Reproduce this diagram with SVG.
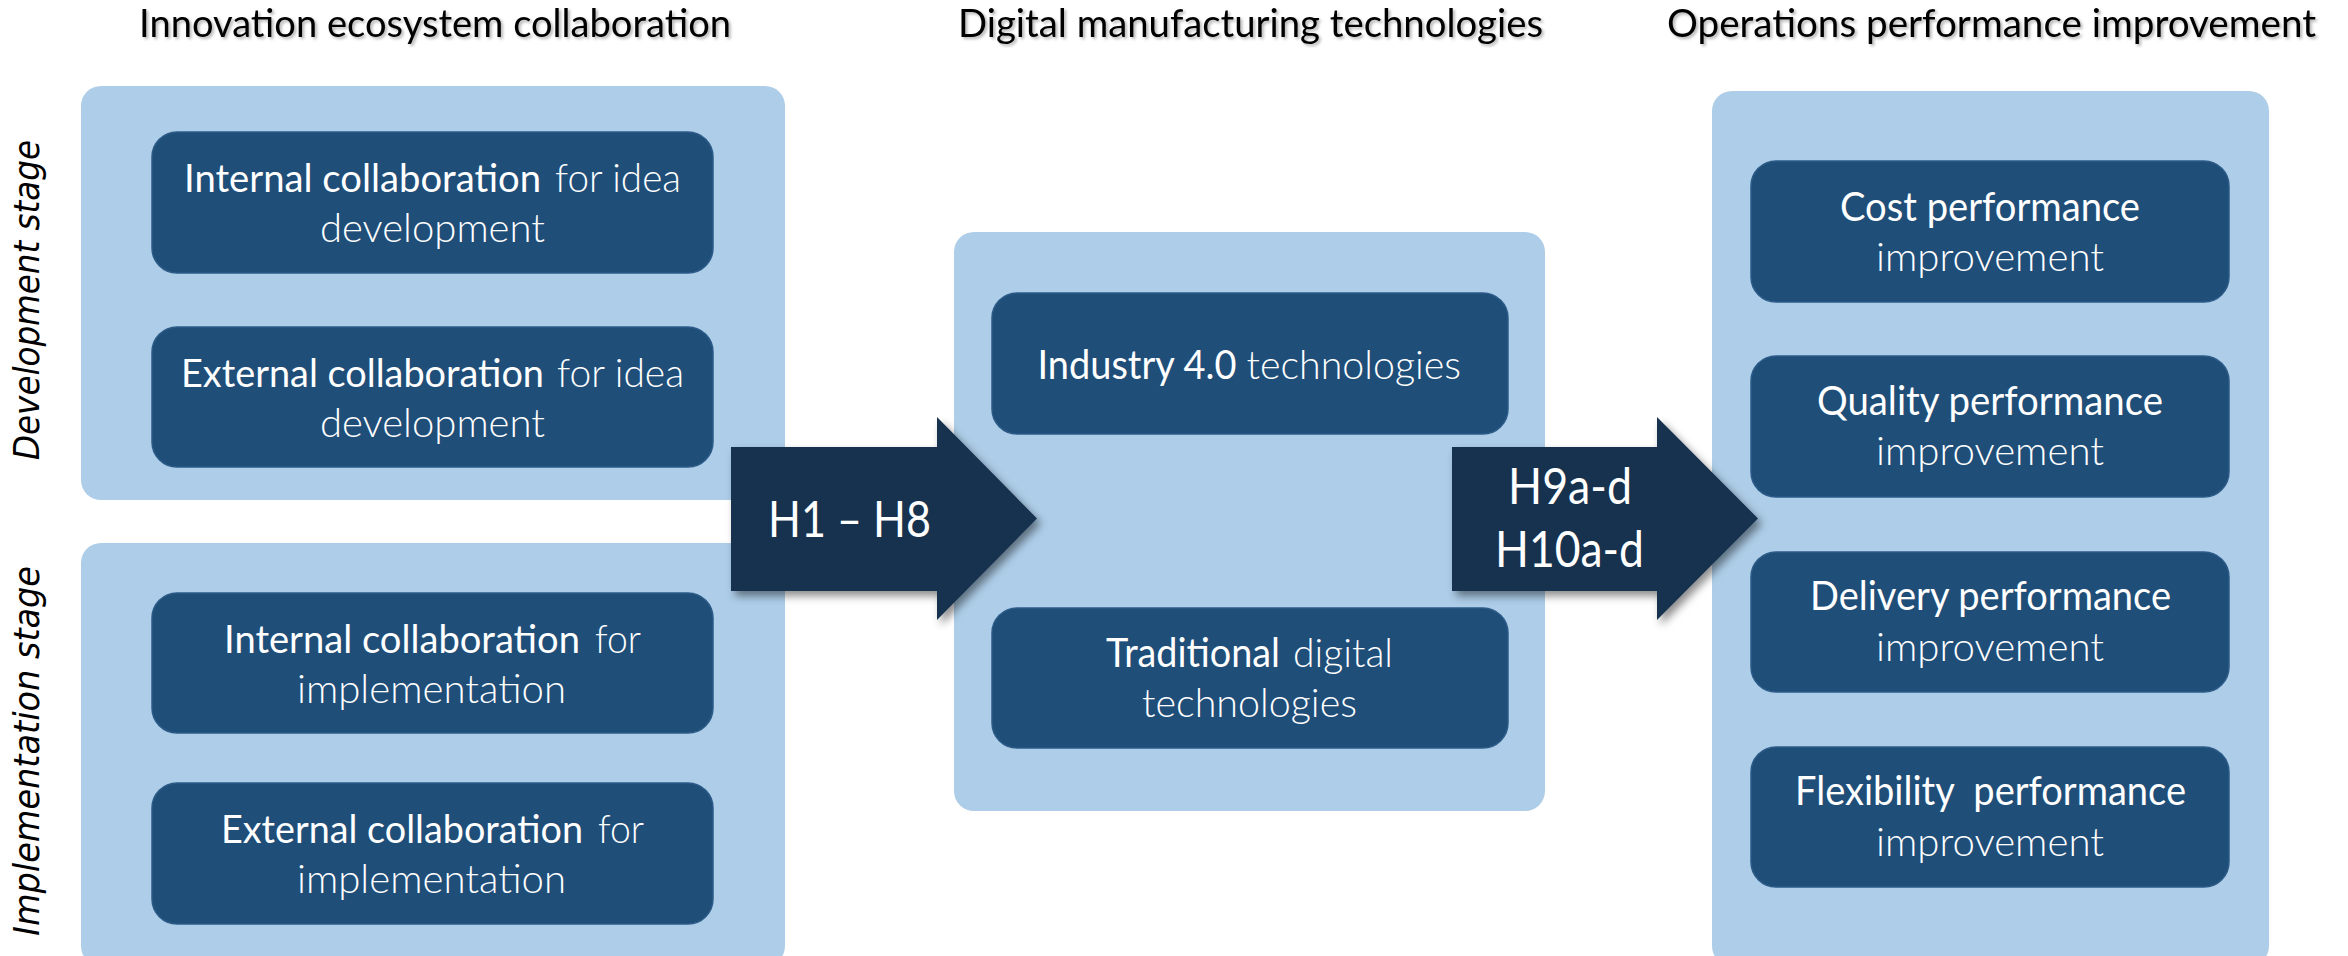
<svg xmlns="http://www.w3.org/2000/svg" width="2348" height="956" viewBox="0 0 2348 956">
  <defs>
    <filter id="arrowShadow" x="-10%" y="-10%" width="130%" height="140%">
      <feDropShadow dx="4" dy="5" stdDeviation="4" flood-color="#000" flood-opacity="0.45"/>
    </filter>
    <filter id="titleShadow" x="-5%" y="-30%" width="110%" height="170%">
      <feDropShadow dx="2" dy="2" stdDeviation="1.5" flood-color="#000" flood-opacity="0.3"/>
    </filter>
  </defs>
  <style>
    .panel { fill: #ADCDE8; }
    .box { fill: #1F4E79; stroke: #2C5B88; stroke-width: 1.5; }
    .arrow { fill: #17324F; filter: url(#arrowShadow); }
    .t { font-family: Lato, "Open Sans", "Liberation Sans", sans-serif; fill: #FFFFFF; font-size: 40px; }
    .b { font-weight: 400; }
    .l { font-weight: 300; }
    .c { font-size: 38px; }
    .title { font-family: Lato, "Open Sans", "Liberation Sans", sans-serif; fill: #000; font-size: 39px; font-weight: 400; filter: url(#titleShadow); }
    .stage { font-family: "DejaVu Sans", "Liberation Sans", sans-serif; font-style: italic; font-size: 35px; fill: #000; }
    .atext { font-family: Lato, "Open Sans", "Liberation Sans", sans-serif; fill: #FFFFFF; font-size: 50px; font-weight: 400; }
  </style>

  <rect width="2348" height="956" fill="#FFFFFF"/>

  <!-- Titles -->
  <g id="titles">
    <text class="title" x="139" y="37" textLength="592" lengthAdjust="spacingAndGlyphs">Innovation ecosystem collaboration</text>
    <text class="title" x="958" y="37" textLength="585" lengthAdjust="spacingAndGlyphs">Digital manufacturing technologies</text>
    <text class="title" x="1667" y="37" textLength="649" lengthAdjust="spacingAndGlyphs">Operations performance improvement</text>
  </g>

  <!-- Stage labels -->
  <g id="stage-labels">
    <text class="stage" transform="translate(39,300) rotate(-90)" x="-160" y="0" textLength="320" lengthAdjust="spacingAndGlyphs">Development stage</text>
    <text class="stage" transform="translate(39,751) rotate(-90)" x="-185" y="0" textLength="370" lengthAdjust="spacingAndGlyphs">Implementation stage</text>
  </g>

  <!-- Panels -->
  <g id="panel-development">
    <rect class="panel" x="81" y="86" width="704" height="414" rx="20"/>
  </g>
  <g id="panel-implementation">
    <rect class="panel" x="81" y="543" width="704" height="423" rx="20"/>
  </g>
  <g id="panel-digital">
    <rect class="panel" x="954" y="232" width="591" height="579" rx="20"/>
  </g>
  <g id="panel-operations">
    <rect class="panel" x="1712" y="91" width="557" height="875" rx="20"/>
  </g>

  <!-- Left nodes -->
  <g id="node-internal-idea">
    <rect class="box" x="152" y="132" width="561" height="141" rx="25"/>
    <text class="t b c" x="184" y="192" textLength="357" lengthAdjust="spacingAndGlyphs">Internal collaboration</text>
    <text class="t l" x="555" y="192" textLength="126" lengthAdjust="spacingAndGlyphs">for idea</text>
    <text class="t l" x="320" y="242" textLength="225" lengthAdjust="spacingAndGlyphs">development</text>
  </g>
  <g id="node-external-idea">
    <rect class="box" x="152" y="327" width="561" height="140" rx="25"/>
    <text class="t b c" x="181" y="387" textLength="363" lengthAdjust="spacingAndGlyphs">External collaboration</text>
    <text class="t l" x="557" y="387" textLength="127" lengthAdjust="spacingAndGlyphs">for idea</text>
    <text class="t l" x="320" y="437" textLength="225" lengthAdjust="spacingAndGlyphs">development</text>
  </g>
  <g id="node-internal-impl">
    <rect class="box" x="152" y="593" width="561" height="140" rx="25"/>
    <text class="t b c" x="224" y="653" textLength="356" lengthAdjust="spacingAndGlyphs">Internal collaboration</text>
    <text class="t l" x="595" y="653" textLength="46" lengthAdjust="spacingAndGlyphs">for</text>
    <text class="t l" x="297" y="703" textLength="269" lengthAdjust="spacingAndGlyphs">implementation</text>
  </g>
  <g id="node-external-impl">
    <rect class="box" x="152" y="783" width="561" height="141" rx="25"/>
    <text class="t b c" x="221" y="843" textLength="362" lengthAdjust="spacingAndGlyphs">External collaboration</text>
    <text class="t l" x="598" y="843" textLength="46" lengthAdjust="spacingAndGlyphs">for</text>
    <text class="t l" x="297" y="893" textLength="269" lengthAdjust="spacingAndGlyphs">implementation</text>
  </g>

  <!-- Middle nodes -->
  <g id="node-industry40">
    <rect class="box" x="992" y="293" width="516" height="141" rx="25"/>
    <text class="t b" x="1037.5" y="379" textLength="199" lengthAdjust="spacingAndGlyphs">Industry 4.0</text>
    <text class="t l" x="1246.5" y="379" textLength="214.5" lengthAdjust="spacingAndGlyphs">technologies</text>
  </g>
  <g id="node-traditional">
    <rect class="box" x="992" y="608" width="516" height="140" rx="25"/>
    <text class="t b" x="1106" y="666.5" textLength="174" lengthAdjust="spacingAndGlyphs">Traditional</text>
    <text class="t l" x="1293" y="666.5" textLength="100" lengthAdjust="spacingAndGlyphs">digital</text>
    <text class="t l" x="1142" y="717" textLength="215" lengthAdjust="spacingAndGlyphs">technologies</text>
  </g>

  <!-- Right nodes -->
  <g id="node-cost">
    <rect class="box" x="1751" y="161" width="478" height="141" rx="25"/>
    <text class="t b" x="1840" y="221" textLength="300" lengthAdjust="spacingAndGlyphs">Cost performance</text>
    <text class="t l" x="1876" y="271" textLength="228" lengthAdjust="spacingAndGlyphs">improvement</text>
  </g>
  <g id="node-quality">
    <rect class="box" x="1751" y="356" width="478" height="141" rx="25"/>
    <text class="t b" x="1817" y="415" textLength="346" lengthAdjust="spacingAndGlyphs">Quality performance</text>
    <text class="t l" x="1876" y="465" textLength="228" lengthAdjust="spacingAndGlyphs">improvement</text>
  </g>
  <g id="node-delivery">
    <rect class="box" x="1751" y="552" width="478" height="140" rx="25"/>
    <text class="t b" x="1810" y="610" textLength="361" lengthAdjust="spacingAndGlyphs">Delivery performance</text>
    <text class="t l" x="1876" y="661" textLength="228" lengthAdjust="spacingAndGlyphs">improvement</text>
  </g>
  <g id="node-flexibility">
    <rect class="box" x="1751" y="747" width="478" height="140" rx="25"/>
    <text class="t b" x="1795" y="805" textLength="391" lengthAdjust="spacingAndGlyphs" style="white-space:pre">Flexibility  performance</text>
    <text class="t l" x="1876" y="856" textLength="228" lengthAdjust="spacingAndGlyphs">improvement</text>
  </g>

  <!-- Connectors (block arrows) -->
  <g id="connectors">
    <g id="arrow-h1-h8">
      <path class="arrow" d="M731,447 H937 V417 L1037,518.5 L937,620 V591 H731 Z"/>
      <text class="atext" x="768" y="537" textLength="163" lengthAdjust="spacingAndGlyphs">H1 – H8</text>
    </g>
    <g id="arrow-h9-h10">
      <path class="arrow" d="M1452,447 H1657 V417 L1758,518.5 L1657,620 V591 H1452 Z"/>
      <text class="atext" x="1508" y="504" textLength="124" lengthAdjust="spacingAndGlyphs">H9a-d</text>
      <text class="atext" x="1495" y="567" textLength="149" lengthAdjust="spacingAndGlyphs">H10a-d</text>
    </g>
  </g>
</svg>
